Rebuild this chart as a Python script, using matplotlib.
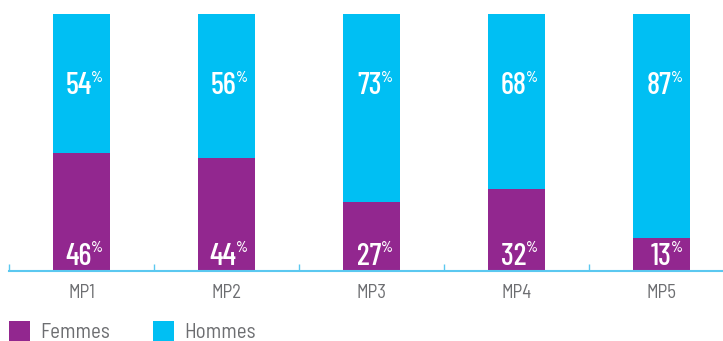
import matplotlib
matplotlib.use("Agg")
import matplotlib.pyplot as plt
from matplotlib.patches import Rectangle

categories = ["MP1", "MP2", "MP3", "MP4", "MP5"]
femmes = [46, 44, 27, 32, 13]
hommes = [54, 56, 73, 68, 87]
series = ["Femmes", "Hommes"]
colors = ["#92278F", "#00BFF3"]

num_font = ["Barlow Condensed", "DejaVu Sans"]
lab_font = ["Barlow Semi Condensed", "DejaVu Sans"]

W, H = 723, 341
fig = plt.figure(figsize=(W / 100, H / 100), dpi=100)
ax = fig.add_axes([9 / W, (H - 271) / H, (W - 9) / W, 257 / H])

x = list(range(len(categories)))
ax.bar(x, femmes, width=0.395, color=colors[0], zorder=2)
ax.bar(x, hommes, width=0.395, bottom=femmes, color=colors[1], zorder=2)

ax.set_xlim(-0.5, -0.5 + (W - 9) / 145)
ax.set_ylim(0, 100)

for s in ["top", "right", "left"]:
    ax.spines[s].set_visible(False)
ax.spines["bottom"].set_color("#5BC8F0")
ax.spines["bottom"].set_linewidth(1.5)
ax.set_yticks([])
ax.set_xticks([i - 0.5 for i in x])
ax.set_xticklabels([])
ax.tick_params(axis="x", direction="in", length=5, color="#5BC8F0", width=1)

for i, c in enumerate(categories):
    ax.text(i, -8.7, c, ha="center", va="center", fontsize=13.5,
            color="#6D6E71", family=lab_font)

def pct(xi, y, v):
    ax.text(xi + 0.07, y, str(v), ha="right", va="center", fontsize=22,
            color="white", family=num_font, weight="medium", zorder=3)
    ax.text(xi + 0.064, y + 3.4, "%", ha="left", va="center", fontsize=11,
            color="white", family=num_font, weight="medium", zorder=3)

for i in x:
    pct(i, 5.6, femmes[i])
    pct(i, 71.8, hommes[i])

# legend
for j, (name, col) in enumerate(zip(series, colors)):
    x0 = [9, 153][j]
    fig.add_artist(Rectangle((x0 / W, 0), 21 / W, 20 / H, transform=fig.transFigure,
                             color=col, lw=0))
    fig.text((x0 + 31) / W, 8 / H, name, ha="left", va="center", fontsize=15,
             color="#6D6E71", family=lab_font)

fig.savefig("out.png", dpi=100)
